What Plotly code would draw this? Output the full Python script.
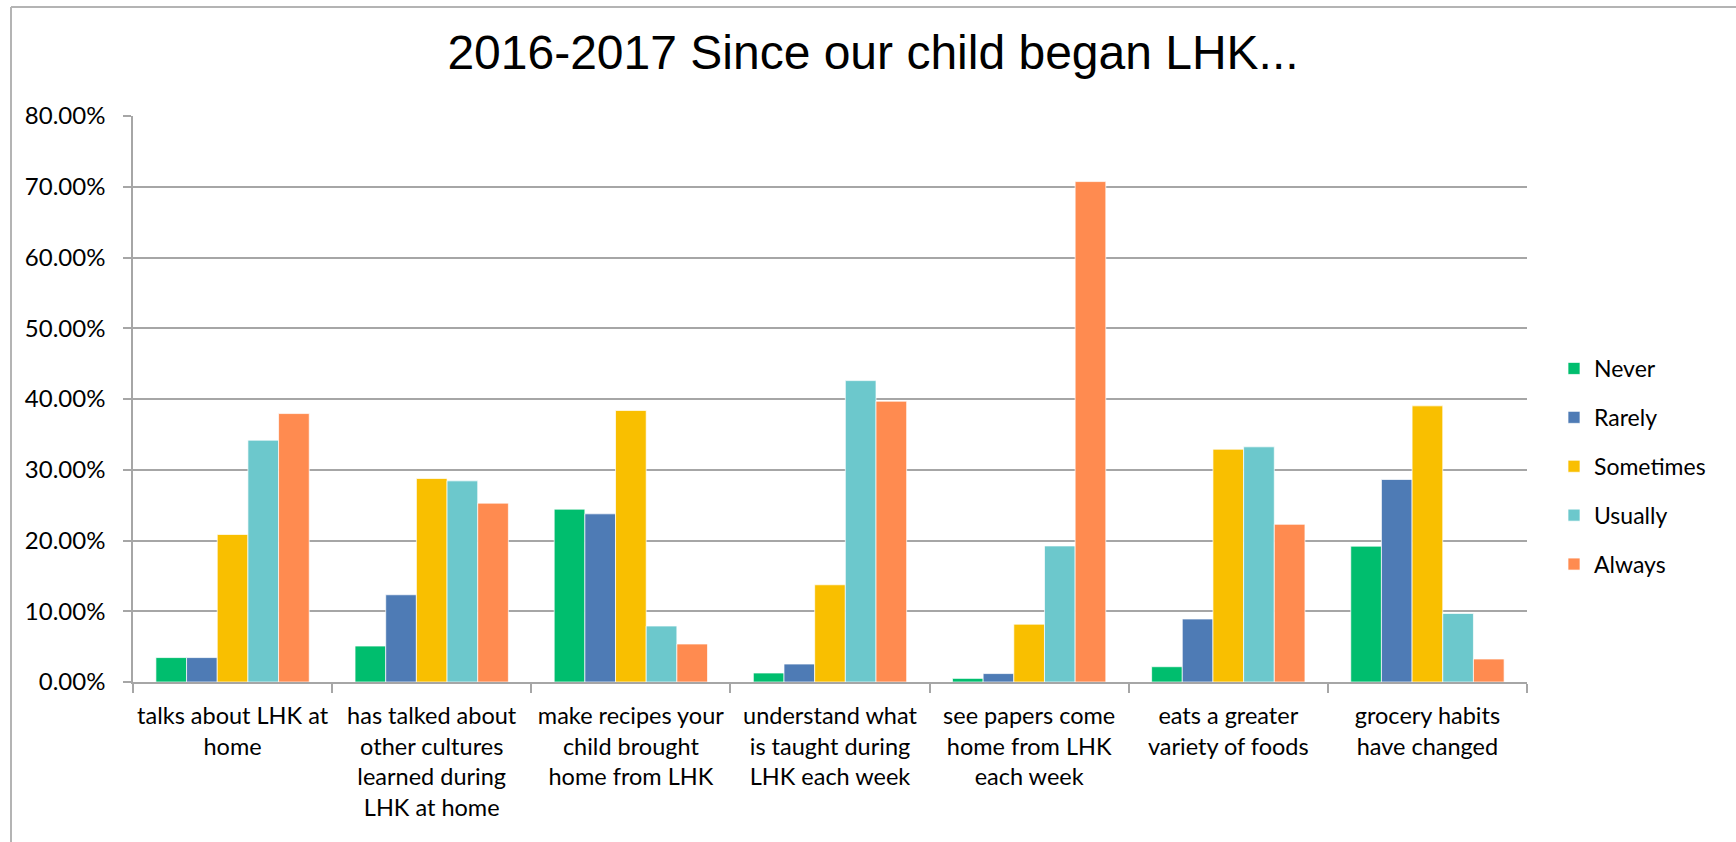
import plotly.graph_objects as go

# Survey questions (x categories), wrapped for the axis
categories = [
    "talks about LHK at<br>home",
    "has talked about<br>other cultures<br>learned during<br>LHK at home",
    "make recipes your<br>child brought<br>home from LHK",
    "understand what<br>is taught during<br>LHK each week",
    "see papers come<br>home from LHK<br>each week",
    "eats a greater<br>variety of foods",
    "grocery habits<br>have changed",
]

# Share of responses per answer (fractions)
never     = [0.0345, 0.0508, 0.2443, 0.0127, 0.0051, 0.0216, 0.1920]
rarely    = [0.0345, 0.1233, 0.2377, 0.0254, 0.0119, 0.0890, 0.2862]
sometimes = [0.2085, 0.2876, 0.3837, 0.1374, 0.0817, 0.3290, 0.3903]
usually   = [0.3418, 0.2843, 0.0791, 0.4260, 0.1923, 0.3324, 0.0969]
always    = [0.3794, 0.2528, 0.0537, 0.3969, 0.7073, 0.2229, 0.0325]

series = [
    ("Never", never, "#00BE6E"),
    ("Rarely", rarely, "#4E7BB5"),
    ("Sometimes", sometimes, "#F9BF00"),
    ("Usually", usually, "#6CC8CC"),
    ("Always", always, "#FF8B50"),
]

W, H = 1736, 842
L, R, T, B = 133, 1527, 116, 682  # plot area in pixels

def px_x(x):
    return (x - L) / (R - L)

def px_y(y):
    return (B - y) / (B - T)

fig = go.Figure()
for name, vals, color in series:
    fig.add_trace(go.Bar(
        name=name, x=categories, y=vals,
        marker=dict(color=color, line=dict(color="rgba(255,255,255,0.7)", width=1)),
        legendgroup=name,
    ))

grid = "#A6A6A6"
fig.update_layout(
    width=W, height=H,
    margin=dict(l=L, r=W - R, t=T, b=H - B, pad=0, autoexpand=False),
    paper_bgcolor="white", plot_bgcolor="white",
    barmode="group", bargap=0.23, bargroupgap=0,
    font=dict(family="Lato, Calibri, sans-serif", size=23, color="black"),
    title=dict(
        text="2016-2017 Since our child began LHK...",
        font=dict(family="Liberation Sans, Arial, sans-serif", size=48, color="black"),
        x=873 / W, xanchor="center", xref="container",
        y=1 - 52 / H, yanchor="middle", yref="container",
    ),
    legend=dict(
        x=px_x(1554), y=px_y(347), xanchor="left", yanchor="top",
        font=dict(size=23), traceorder="grouped", tracegroupgap=16,
        bgcolor="rgba(0,0,0,0)", itemwidth=30,
    ),
    showlegend=True,
)

fig.update_xaxes(
    type="category", tickson="boundaries", tickangle=0, automargin=False,
    ticks="outside", ticklen=9, tickcolor=grid, tickwidth=1.5,
    showline=True, linecolor=grid, linewidth=1.5,
    showgrid=False, tickfont=dict(size=23.5), ticklabelstandoff=12,
)
fig.update_yaxes(
    range=[0, 0.8], dtick=0.1, tickformat=".2%", automargin=False,
    ticks="outside", ticklen=8, tickcolor=grid, tickwidth=1.5,
    showline=True, linecolor=grid, linewidth=1.5,
    showgrid=True, gridcolor=grid, gridwidth=1.5,
    zeroline=False, tickfont=dict(size=24), ticklabelstandoff=13,
)

# Outer chart frame (left and top edges)
fig.add_shape(type="line", xref="paper", yref="paper",
              x0=px_x(11), x1=px_x(W), y0=px_y(7), y1=px_y(7),
              line=dict(color="#B4B4B4", width=2))
fig.add_shape(type="line", xref="paper", yref="paper",
              x0=px_x(11), x1=px_x(11), y0=px_y(7), y1=px_y(H),
              line=dict(color="#B4B4B4", width=2))

fig.write_html("out.html")
